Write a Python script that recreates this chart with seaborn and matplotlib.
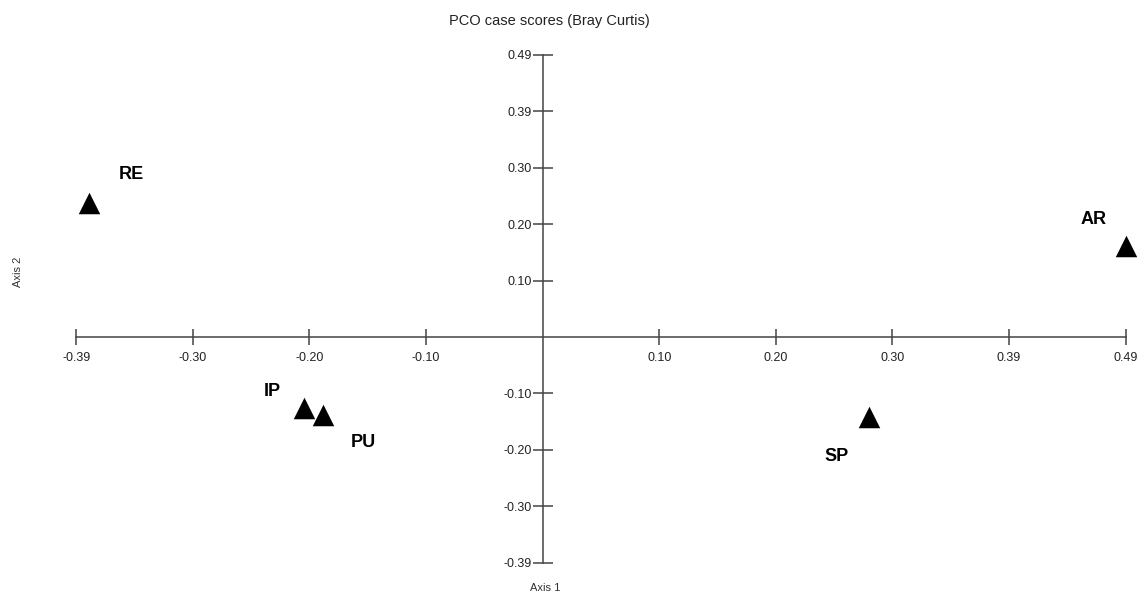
import numpy as np
import pandas as pd
import matplotlib
matplotlib.use('Agg')
import matplotlib.pyplot as plt
import seaborn as sns

# data
sites = ['RE', 'AR', 'IP', 'PU', 'SP']
axis1 = [-0.381, 0.490, -0.2005, -0.185, 0.274]
axis2 = [0.233, 0.158, -0.124, -0.135, -0.139]

tick_step = 0.098
tick_labels = ['-0.39', '-0.30', '-0.20', '-0.10', '0.10', '0.20', '0.30', '0.39', '0.49']
tick_k = [-4, -3, -2, -1, 1, 2, 3, 4, 5]
ytick_labels = ['-0.39', '-0.30', '-0.20', '-0.10', '0.10', '0.20', '0.30', '0.39', '0.49']

# label offsets (points) for each site name
label_offsets = {'RE': (30, 20), 'AR': (-23, 19), 'IP': (-23, 12),
                 'PU': (29, -20), 'SP': (-23, -28)}

df = pd.DataFrame({'site': sites, 'axis1': axis1, 'axis2': axis2})

sns.set_style('white')
plt.rcParams['font.family'] = ['Liberation Sans', 'DejaVu Sans']

fig = plt.figure(figsize=(11.46, 6.05), dpi=100)
ax = fig.add_axes([0, 0, 1, 1])

sns.scatterplot(data=df, x='axis1', y='axis2', marker='^', s=240,
                color='black', linewidth=0, ax=ax, zorder=3)

for _, r in df.iterrows():
    ax.annotate(r['site'], (r['axis1'], r['axis2']), xytext=label_offsets[r['site']],
                textcoords='offset points', ha='center', va='center',
                fontsize=13, fontweight='bold', color='black')

# axis limits so that origin sits at the same place as the reference
ax.set_xlim(-0.4561, 0.5071)
ax.set_ylim(-0.4649, 0.5846)

ticks = [k * tick_step for k in tick_k]
ax.set_xticks(ticks)
ax.set_xticklabels(tick_labels)
ax.set_yticks(ticks)
ax.set_yticklabels(ytick_labels)

for side in ['top', 'right']:
    ax.spines[side].set_visible(False)
ax.spines['left'].set_position(('data', 0))
ax.spines['bottom'].set_position(('data', 0))
ax.spines['left'].set_bounds(ticks[0], ticks[-1])
ax.spines['bottom'].set_bounds(ticks[0], ticks[-1])
for side in ['left', 'bottom']:
    ax.spines[side].set_color('#444444')
    ax.spines[side].set_linewidth(1.1)

ax.tick_params(axis='x', bottom=True, direction='inout', length=11, width=1.1,
               color='#444444', labelsize=9, labelcolor='#222222', pad=5)
ax.tick_params(axis='y', left=True, direction='inout', length=14, width=1.1,
               color='#444444', labelsize=9, labelcolor='#222222', pad=1)

ax.set_xlabel('')
ax.set_ylabel('')
fig.text(0.479, 0.965, 'PCO case scores (Bray Curtis)', ha='center', va='center',
         fontsize=10.5, color='#222222')
fig.text(0.476, 0.028, 'Axis 1', ha='center', va='center', fontsize=8, color='#333333')
fig.text(0.016, 0.55, 'Axis 2', ha='center', va='center', rotation=90,
         fontsize=8, color='#333333')

plt.savefig('out.png', dpi=100)
